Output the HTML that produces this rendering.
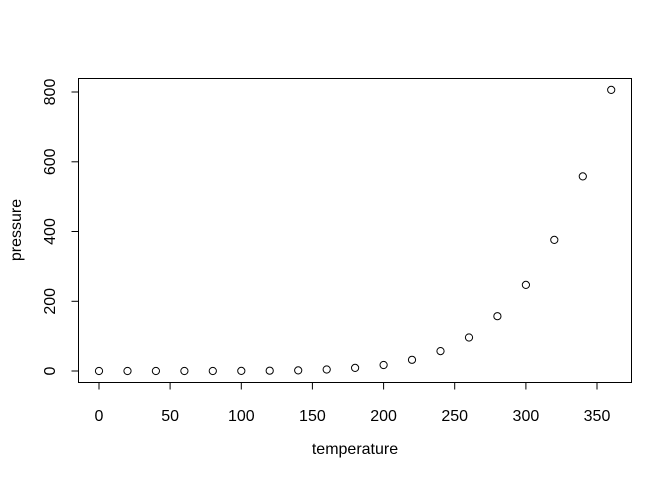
<!DOCTYPE html>
<html><head><meta charset="utf-8"><style>
html,body{margin:0;padding:0;background:#fff;}
svg{display:block;font-family:"Liberation Sans",sans-serif;}
</style></head><body>
<svg width="672" height="480" viewBox="0 0 672 480" xmlns="http://www.w3.org/2000/svg">
<rect x="78.5" y="78.5" width="553" height="304" fill="none" stroke="#000" stroke-width="1"/>
<g stroke="#000" stroke-width="1">
<line x1="99" y1="382.5" x2="597" y2="382.5"/>
<line x1="99" y1="382.5" x2="99" y2="389.5"/>
<line x1="170.1" y1="382.5" x2="170.1" y2="389.5"/>
<line x1="241.3" y1="382.5" x2="241.3" y2="389.5"/>
<line x1="312.4" y1="382.5" x2="312.4" y2="389.5"/>
<line x1="383.6" y1="382.5" x2="383.6" y2="389.5"/>
<line x1="454.7" y1="382.5" x2="454.7" y2="389.5"/>
<line x1="525.9" y1="382.5" x2="525.9" y2="389.5"/>
<line x1="597" y1="382.5" x2="597" y2="389.5"/>
<line x1="78.5" y1="371" x2="78.5" y2="92"/>
<line x1="71.5" y1="371" x2="78.5" y2="371"/>
<line x1="71.5" y1="301.3" x2="78.5" y2="301.3"/>
<line x1="71.5" y1="231.5" x2="78.5" y2="231.5"/>
<line x1="71.5" y1="161.8" x2="78.5" y2="161.8"/>
<line x1="71.5" y1="92" x2="78.5" y2="92"/>
</g>
<g font-size="16" text-anchor="middle" fill="#000">
<text x="99" y="421">0</text>
<text x="170.1" y="421">50</text>
<text x="241.3" y="421">100</text>
<text x="312.4" y="421">150</text>
<text x="383.6" y="421">200</text>
<text x="454.7" y="421">250</text>
<text x="525.9" y="421">300</text>
<text x="597" y="421">350</text>
<text transform="translate(55,371) rotate(-90)">0</text>
<text transform="translate(55,301.3) rotate(-90)">200</text>
<text transform="translate(55,231.5) rotate(-90)">400</text>
<text transform="translate(55,161.8) rotate(-90)">600</text>
<text transform="translate(55,92) rotate(-90)">800</text>
<text x="355" y="454">temperature</text>
<text transform="translate(21,230) rotate(-90)">pressure</text>
</g>
<g fill="none" stroke="#000" stroke-width="1">
<circle cx="99" cy="371" r="3.6"/>
<circle cx="127.5" cy="371" r="3.6"/>
<circle cx="155.9" cy="371" r="3.6"/>
<circle cx="184.4" cy="371" r="3.6"/>
<circle cx="212.8" cy="371" r="3.6"/>
<circle cx="241.3" cy="370.9" r="3.6"/>
<circle cx="269.7" cy="370.7" r="3.6"/>
<circle cx="298.2" cy="370.4" r="3.6"/>
<circle cx="326.7" cy="369.5" r="3.6"/>
<circle cx="355.1" cy="367.9" r="3.6"/>
<circle cx="383.6" cy="365" r="3.6"/>
<circle cx="412" cy="359.8" r="3.6"/>
<circle cx="440.5" cy="351.1" r="3.6"/>
<circle cx="469" cy="337.5" r="3.6"/>
<circle cx="497.4" cy="316.2" r="3.6"/>
<circle cx="525.9" cy="284.9" r="3.6"/>
<circle cx="554.3" cy="239.9" r="3.6"/>
<circle cx="582.8" cy="176.4" r="3.6"/>
<circle cx="611.2" cy="89.9" r="3.6"/>
</g>
</svg>
</body></html>
